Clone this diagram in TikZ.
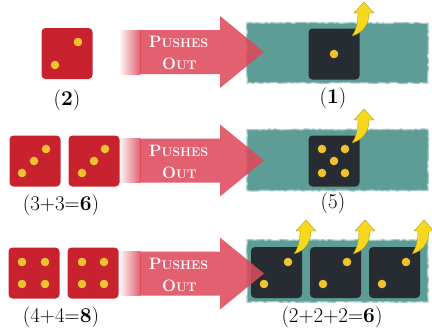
\documentclass[tikz,border=0pt]{standalone}
\usepackage{fontspec}
\usetikzlibrary{decorations.pathmorphing}

\definecolor{dieRed}{HTML}{C8222F}
\definecolor{pipYellow}{HTML}{F0C22E}
\definecolor{dieDark}{HTML}{262C31}
\definecolor{tray}{HTML}{5E9C96}
\definecolor{trayEdge}{HTML}{A5C9C4}
\definecolor{pushRed}{HTML}{DE4A5B}
\definecolor{swoosh}{HTML}{F7D81E}
\definecolor{swooshEdge}{HTML}{9C8A12}

\tikzset{
  reddie/.style={fill=dieRed, rounded corners=4pt, inner sep=0pt, minimum size=51pt},
  darkdie/.style={fill=dieDark, rounded corners=4pt, inner sep=0pt, minimum size=51pt},
  traybox/.style={fill=tray, draw=trayEdge, line width=1.2pt, inner sep=0pt,
    decorate, decoration={random steps, segment length=3pt, amplitude=0.6pt}},
  pushlabel/.style={text=white, font=\bfseries, inner sep=0pt, anchor=base},
  sumlabel/.style={font=\fontsize{21}{21}\selectfont, inner sep=0pt},
  pushbody/.style={fill=pushRed, fill opacity=0.88},
  pushfade/.style={left color=pushRed!6, right color=pushRed!88},
  swooshstyle/.style={fill=swoosh, draw=swooshEdge, line width=0.3pt, line join=round},
}

\newcommand\pip[2]{\fill[pipYellow] (#1,#2) circle (4.3pt);}
\newcommand\capbig[1]{{\fontsize{16.5}{20}\selectfont #1}}
\newcommand\capsmall[1]{{\fontsize{12.5}{20}\selectfont #1}}
% big red arrow centred on height #1, its labels named #2a and #2b
\newcommand\pusharrow[2]{%
  \shade[pushfade] (120,#1-22) rectangle (140.4,#1+22);
  \fill[pushbody] (140,#1-22) -- (220,#1-22) -- (220,#1-36) -- (264,#1)
    -- (220,#1+36) -- (220,#1+22) -- (140,#1+22) -- cycle;
  \node[pushlabel] (#2a) at (178.5,#1-4)
    {\addfontfeature{LetterSpace=6}\capbig{P}\capsmall{USHES}};
  \node[pushlabel] (#2b) at (179.5,#1+18)
    {\addfontfeature{LetterSpace=6}\capbig{O}\capsmall{UT}};}
% curved yellow arrow rising from point #1
\newcommand\swooshat[1]{%
  \filldraw[swooshstyle, shift={#1}] (0,0) .. controls (10,-3) and (17,-10) .. (17,-23)
    -- (22,-23) -- (12,-34) -- (2,-23) -- (6,-23)
    .. controls (6,-12) and (3,-4) .. (0,0) -- cycle;}

\begin{document}
\begin{tikzpicture}[x=1pt, y=-1pt]
\useasboundingbox (0,0) rectangle (432,332);

% ---------- row 1 ----------
\node[reddie] (r1a) at (67,53.5) {};
\pip{78}{42}\pip{55}{65}
\node[sumlabel] (l1a) at (67,100) {(\textbf{2})};

\node[traybox, minimum width=181pt, minimum height=60pt] (t1) at (337.5,53) {};
\node[darkdie] (k1) at (334,54) {};
\pip{334}{54}
\pusharrow{52}{p1}
\swooshat{(352,36)}
\node[sumlabel] (l1b) at (333,98) {(\textbf{1})};

% ---------- row 2 ----------
\node[reddie] (r2a) at (35,161) {};
\node[reddie] (r2b) at (94,161) {};
\pip{46}{149}\pip{34}{161}\pip{22}{173}
\pip{105}{149}\pip{94}{161}\pip{82}{173}
\node[sumlabel] (l2a) at (61,205) {(3+3=\textbf{6})};

\node[traybox, minimum width=181pt, minimum height=61pt] (t2) at (337.5,160) {};
\node[darkdie] (k2) at (334,161) {};
\pip{322}{149}\pip{345}{149}\pip{334}{161}\pip{322}{173}\pip{345}{173}
\pusharrow{160.5}{p2}
\swooshat{(352,143)}
\node[sumlabel] (l2b) at (333,203) {(5)};

% ---------- row 3 ----------
\node[reddie] (r3a) at (34,273) {};
\node[reddie] (r3b) at (93,273) {};
\pip{22}{262}\pip{45}{262}\pip{22}{284}\pip{45}{284}
\pip{82}{262}\pip{104}{262}\pip{82}{284}\pip{104}{284}
\node[sumlabel] (l3a) at (61,317) {(4+4=\textbf{8})};

\node[traybox, minimum width=181pt, minimum height=62pt] (t3) at (337.5,271) {};
\node[darkdie] (k3a) at (276.5,272.5) {};
\node[darkdie] (k3b) at (335.5,272.5) {};
\node[darkdie] (k3c) at (394.5,272.5) {};
\pip{288}{262}\pip{264}{284}
\pip{347}{262}\pip{323}{284}
\pip{406}{262}\pip{382}{284}
\pusharrow{273.5}{p3}
\swooshat{(294,254)}\swooshat{(353,254)}\swooshat{(412,254)}
\node[sumlabel] (l3b) at (332,317) {(2+2+2=\textbf{6})};
\end{tikzpicture}
\end{document}
